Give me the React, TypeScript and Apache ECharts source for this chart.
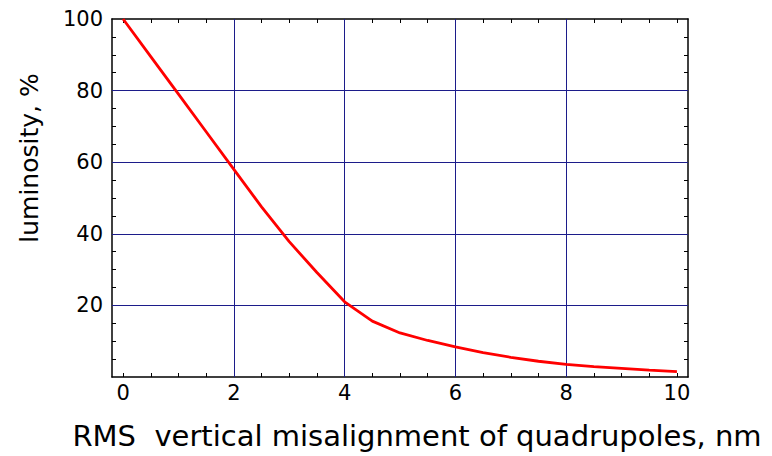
import React, { useEffect, useRef } from "react";
import * as echarts from "echarts";

const xValues = [0, 0.5, 1, 1.5, 2, 2.5, 3, 3.5, 4, 4.5, 5, 5.5, 6, 6.5, 7, 7.5, 8, 8.5, 9, 9.5, 10];
const luminosity = [100, 89.5, 79, 68.5, 58, 47.5, 37.8, 29.2, 21, 15.6, 12.3, 10.2, 8.4, 6.8, 5.5, 4.4, 3.5, 2.9, 2.4, 1.9, 1.5];
const xTickLabels = [0, 2, 4, 6, 8, 10];
const xMinorTicks = [0, 0.5, 1, 1.5, 2, 2.5, 3, 3.5, 4, 4.5, 5, 5.5, 6, 6.5, 7, 7.5, 8, 8.5, 9, 9.5, 10];
const yTickLabels = [20, 40, 60, 80, 100];
const yMinorTicks = [5, 10, 15, 20, 25, 30, 35, 40, 45, 50, 55, 60, 65, 70, 75, 80, 85, 90, 95];
const xGridLines = [2, 4, 6, 8];
const yGridLines = [20, 40, 60, 80];

const FONT = "DejaVu Sans";

export default function App() {
  const ref = useRef<HTMLDivElement>(null);
  useEffect(() => {
    if (!ref.current) return;
    const chart = echarts.init(ref.current, undefined, { renderer: "svg" });
    const axisLine = { show: true, onZero: false, lineStyle: { color: "#000", width: 1.5 } };
    const xBase = {
      type: "value" as const,
      min: -0.2,
      max: 10.2,
      splitLine: { show: false },
      axisLine,
      axisTick: { show: true, inside: true, length: 4, customValues: xMinorTicks, lineStyle: { color: "#000", width: 1 } },
    };
    const yBase = {
      type: "value" as const,
      min: 0,
      max: 100,
      interval: 20,
      splitLine: { show: false },
      axisLine,
      axisTick: { show: true, inside: true, length: 4, customValues: yMinorTicks, lineStyle: { color: "#000", width: 1 } },
    };
    chart.setOption({
      animation: false,
      backgroundColor: "#fff",
      grid: { left: 112, right: 84, top: 19, bottom: 79, show: false },
      xAxis: [
        {
          ...xBase,
          position: "bottom",
          axisLabel: { customValues: xTickLabels, color: "#000", fontFamily: FONT, fontSize: 21, margin: 5 },
        },
        { ...xBase, position: "top", axisLabel: { show: false } },
      ],
      yAxis: [
        {
          ...yBase,
          position: "left",
          axisLabel: { customValues: yTickLabels, color: "#000", fontFamily: FONT, fontSize: 21, margin: 9 },
        },
        { ...yBase, position: "right", axisLabel: { show: false } },
      ],
      graphic: [
        {
          type: "text",
          x: 417,
          y: 436,
          style: {
            text: "RMS  vertical misalignment of quadrupoles, nm",
            fontFamily: FONT,
            fontSize: 29,
            fill: "#000",
            align: "center",
            verticalAlign: "middle",
          },
        },
        {
          type: "text",
          x: 29,
          y: 158,
          rotation: Math.PI / 2,
          style: {
            text: "luminosity, %",
            fontFamily: FONT,
            fontSize: 25,
            fill: "#000",
            align: "center",
            verticalAlign: "middle",
          },
        },
      ],
      series: [
        {
          type: "line",
          data: [],
          silent: true,
          markLine: {
            silent: true,
            symbol: ["none", "none"],
            label: { show: false },
            lineStyle: { color: "#1c1c8a", type: "solid", width: 1 },
            data: [
              ...xGridLines.map((v) => ({ xAxis: v })),
              ...yGridLines.map((v) => ({ yAxis: v })),
            ],
          },
        },
        {
          type: "line",
          data: xValues.map((x, i) => [x, luminosity[i]]),
          showSymbol: false,
          smooth: false,
          lineStyle: { color: "#ff0000", width: 2.8 },
          z: 5,
        },
      ],
    });
    return () => chart.dispose();
  }, []);
  return (
    <div
      ref={ref}
      style={{ position: "absolute", left: 0, top: 0, width: 772, height: 456 }}
    />
  );
}
